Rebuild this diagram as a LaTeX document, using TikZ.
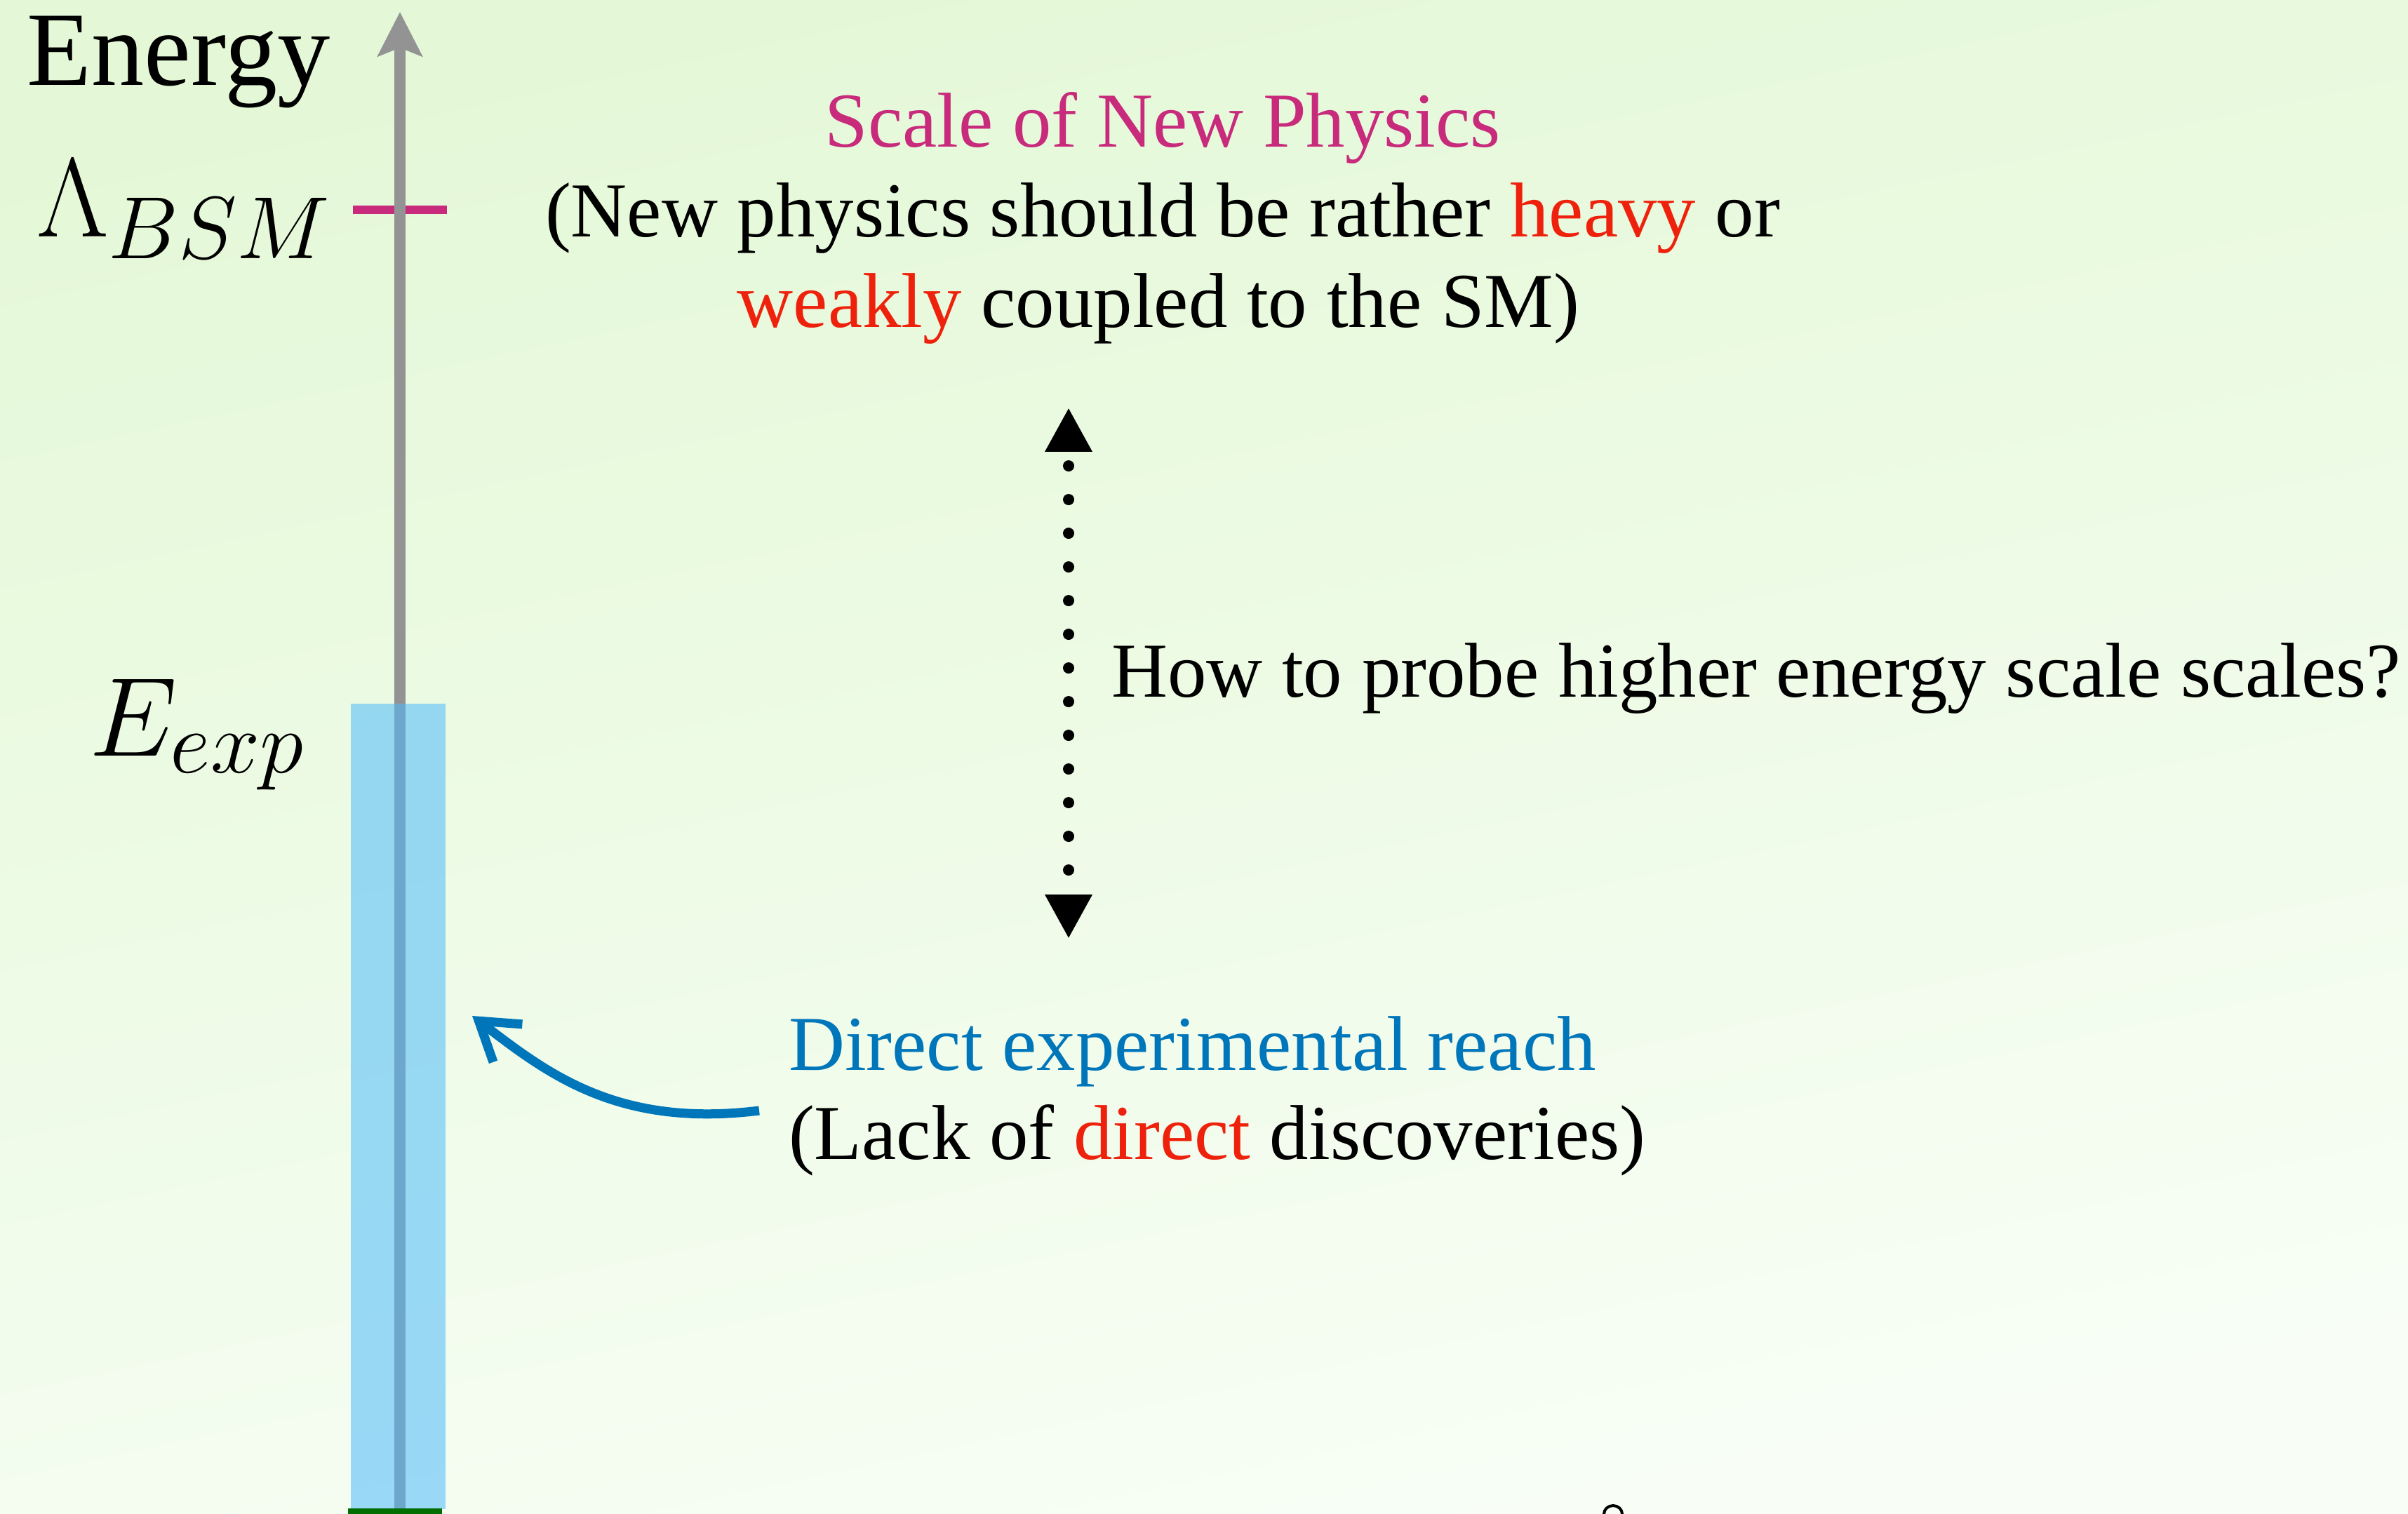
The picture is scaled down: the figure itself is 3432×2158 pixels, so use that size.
\RequirePackage{fix-cm}
\documentclass[tikz,border=0pt]{standalone}
\usepackage[no-math]{fontspec}
\setmainfont{Liberation Serif}
\usetikzlibrary{arrows.meta}
\DeclareMathSizes{40}{40}{31.5}{22}
\definecolor{bgtop}{RGB}{228,248,215}
\definecolor{bgbot}{RGB}{248,254,246}
\definecolor{magT}{RGB}{200,42,124}
\definecolor{redT}{RGB}{238,34,12}
\definecolor{blueT}{RGB}{0,118,186}
\definecolor{axgray}{RGB}{147,147,147}
\definecolor{barblue}{RGB}{78,187,251}
\definecolor{grbar}{RGB}{0,110,0}
\begin{document}
\begin{tikzpicture}[x=0.25pt,y=-0.25pt,
  lbl/.style={inner sep=0pt, outer sep=0pt, font=\fontsize{27.7}{32}\selectfont},
  mathlbl/.style={inner sep=0pt, outer sep=0pt, font=\fontsize{40}{48}\selectfont},
  axisline/.style={draw=axgray, line width=4pt, -{Stealth[length=15.75pt, width=15.75pt, inset=3pt]}},
  probe/.style={line width=4pt, line cap=round, dash pattern=on 0pt off 12pt, dash phase=6pt,
     {Triangle[width=15.75pt,length=15.75pt]}-{Triangle[width=15.75pt,length=15.75pt]}},
  reach/.style={draw=blueT, line width=3.25pt, -{Straight Barb[length=13pt,width=17pt]}}
]
\useasboundingbox (0,0) rectangle (3432,2158);
\shade[shading=axis, top color=bgtop, bottom color=bgbot, shading angle=12] (0,0) rectangle (3432,2158);

% tick for Lambda
\fill[magT] (503,293) rectangle (637,305);

% axis
\coordinate (axbot) at (570,2158);
\coordinate (axtop) at (570,17);
\draw[axisline] (axbot) -- (axtop);

% experimental reach bar
\fill[barblue, fill opacity=0.55] (500,1003) rectangle (635,2151);
\fill[grbar] (496,2150) rectangle (630,2158);

% labels on the axis
\node[inner sep=0pt, anchor=base west, font=\fontsize{37.6}{42}\selectfont] (energy) at (38,122) {Energy};
\node[mathlbl, anchor=base west] (lambda) at (52,338) {$\Lambda_{BSM}$};
\node[mathlbl, anchor=base west] (eexp) at (127,1077) {$E_{exp}$};

% new physics text
\node[lbl, anchor=base, text=magT] (np1) at (1657,210) {Scale of New Physics};
\node[lbl, anchor=base] (np2) at (1657,338) {(New physics should be rather \textcolor{redT}{heavy} or};
\node[lbl, anchor=base] (np3) at (1651,467) {\textcolor{redT}{weakly} coupled to the SM)};

% probe arrow
\coordinate (ptop) at (1523,581);
\coordinate (pbot) at (1523,1338);
\draw[probe] (ptop) -- (pbot);
\node[lbl, anchor=base west] (how) at (1584,993) {How to probe higher energy scale scales?};

% direct reach
\node[lbl, anchor=base west, text=blueT] (dir) at (1124,1525) {Direct experimental reach};
\node[lbl, anchor=base west] (lack) at (1124,1652) {(Lack of \textcolor{redT}{direct} discoveries)};
\coordinate (rs) at (1082,1583);
\coordinate (rt) at (673,1448);
\draw[reach] (rs) .. controls (880,1608) and (780,1530) .. (rt);

% small clipped mark at bottom
\draw[line width=1pt] (2299,2158) ellipse (13 and 12);
\end{tikzpicture}
\end{document}
